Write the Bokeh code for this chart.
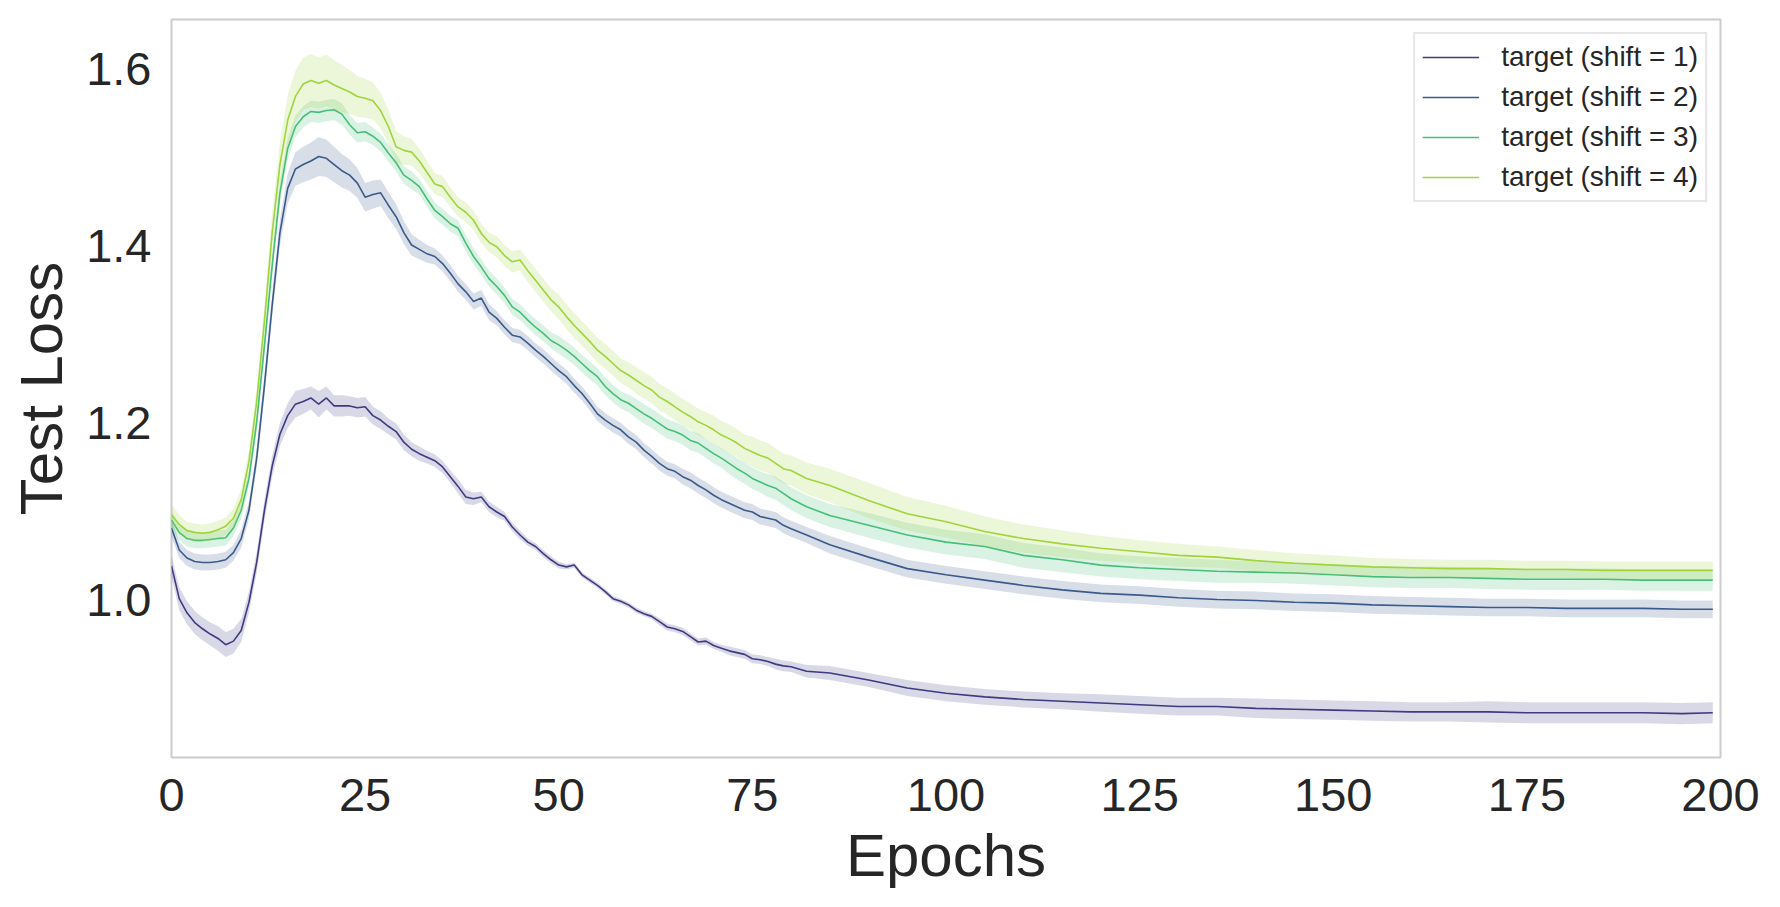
import numpy as np
from bokeh.plotting import figure
from bokeh.models import (ColumnDataSource, Range1d, FixedTicker, PrintfTickFormatter,
                          Legend, LegendItem)
from bokeh.embed import file_html
from bokeh.resources import INLINE

# ---------------- data ----------------
EPOCHS = list(range(0, 81)) + [82, 85, 90, 95, 100, 105, 110, 115, 120, 125, 130, 135,
                               140, 145, 150, 155, 160, 165, 170, 175, 180, 185, 190, 195, 199]

LABELS = ["target (shift = 1)", "target (shift = 2)", "target (shift = 3)", "target (shift = 4)"]
COLORS = ["#3f3a82", "#3a5a8c", "#45bf76", "#9fd43c"]

shift1 = [
    1.038, 1.001, 0.985, 0.974, 0.967, 0.961, 0.956, 0.949, 0.953, 0.965,
    0.997, 1.042, 1.101, 1.151, 1.187, 1.208, 1.221, 1.224, 1.228, 1.221,
    1.228, 1.219, 1.219, 1.219, 1.217, 1.218, 1.208, 1.203, 1.196, 1.190,
    1.178, 1.170, 1.165, 1.161, 1.157, 1.150, 1.139, 1.128, 1.116, 1.114,
    1.116, 1.105, 1.099, 1.094, 1.082, 1.073, 1.065, 1.060, 1.052, 1.045,
    1.039, 1.037, 1.039, 1.028, 1.022, 1.016, 1.009, 1.001, 0.998, 0.994,
    0.988, 0.984, 0.981, 0.975, 0.969, 0.967, 0.964, 0.958, 0.952, 0.953,
    0.948, 0.945, 0.942, 0.940, 0.938, 0.933, 0.932, 0.930, 0.927, 0.925, 0.924,
    0.919, 0.917, 0.909, 0.900, 0.894, 0.890, 0.887, 0.885, 0.883, 0.881, 0.879, 0.879,
    0.877, 0.876, 0.875, 0.874, 0.873, 0.873, 0.873, 0.872, 0.872, 0.872, 0.872, 0.871, 0.872,
]
shift2 = [
    1.081, 1.056, 1.047, 1.043, 1.042, 1.042, 1.043, 1.045, 1.053, 1.069,
    1.101, 1.160, 1.242, 1.333, 1.415, 1.465, 1.487, 1.492, 1.496, 1.501,
    1.499, 1.492, 1.485, 1.480, 1.471, 1.455, 1.458, 1.460, 1.446, 1.433,
    1.415, 1.401, 1.396, 1.391, 1.388, 1.380, 1.369, 1.357, 1.348, 1.337,
    1.341, 1.325, 1.318, 1.308, 1.299, 1.297, 1.290, 1.282, 1.275, 1.267,
    1.259, 1.252, 1.242, 1.233, 1.222, 1.210, 1.203, 1.197, 1.192, 1.184,
    1.178, 1.169, 1.162, 1.154, 1.148, 1.145, 1.139, 1.135, 1.129, 1.124,
    1.118, 1.113, 1.109, 1.105, 1.101, 1.099, 1.094, 1.092, 1.090, 1.084, 1.080,
    1.073, 1.062, 1.048, 1.035, 1.028, 1.022, 1.016, 1.011, 1.007, 1.005, 1.002, 1.000,
    0.999, 0.997, 0.996, 0.994, 0.993, 0.992, 0.991, 0.991, 0.990, 0.990, 0.990, 0.989, 0.989,
]
shift3 = [
    1.090, 1.076, 1.069, 1.067, 1.067, 1.068, 1.069, 1.070, 1.081, 1.101,
    1.137, 1.201, 1.287, 1.378, 1.460, 1.510, 1.535, 1.546, 1.552, 1.551,
    1.553, 1.554, 1.549, 1.537, 1.528, 1.529, 1.524, 1.517, 1.505, 1.494,
    1.480, 1.474, 1.467, 1.453, 1.440, 1.433, 1.425, 1.420, 1.403, 1.388,
    1.376, 1.363, 1.354, 1.344, 1.331, 1.325, 1.316, 1.308, 1.301, 1.293,
    1.288, 1.282, 1.275, 1.267, 1.259, 1.252, 1.241, 1.233, 1.226, 1.222,
    1.216, 1.210, 1.205, 1.199, 1.193, 1.190, 1.186, 1.180, 1.177, 1.171,
    1.165, 1.160, 1.154, 1.148, 1.143, 1.137, 1.133, 1.129, 1.126, 1.120, 1.114,
    1.105, 1.095, 1.084, 1.073, 1.065, 1.060, 1.050, 1.045, 1.039, 1.036, 1.034, 1.032,
    1.031, 1.030, 1.028, 1.026, 1.025, 1.025, 1.024, 1.023, 1.023, 1.023, 1.022, 1.022, 1.022,
]
shift4 = [
    1.096, 1.085, 1.078, 1.076, 1.075, 1.076, 1.079, 1.083, 1.092, 1.113,
    1.156, 1.224, 1.315, 1.415, 1.492, 1.542, 1.569, 1.583, 1.587, 1.584,
    1.587, 1.582, 1.578, 1.574, 1.569, 1.567, 1.564, 1.553, 1.535, 1.512,
    1.508, 1.506, 1.496, 1.483, 1.470, 1.467, 1.455, 1.444, 1.438, 1.429,
    1.414, 1.404, 1.399, 1.389, 1.382, 1.384, 1.372, 1.361, 1.350, 1.339,
    1.331, 1.320, 1.310, 1.301, 1.292, 1.282, 1.275, 1.267, 1.259, 1.254,
    1.248, 1.242, 1.237, 1.229, 1.224, 1.218, 1.212, 1.207, 1.201, 1.197,
    1.192, 1.186, 1.182, 1.177, 1.171, 1.167, 1.163, 1.160, 1.154, 1.148, 1.146,
    1.137, 1.129, 1.112, 1.097, 1.088, 1.077, 1.069, 1.063, 1.058, 1.054, 1.050, 1.048,
    1.044, 1.041, 1.039, 1.037, 1.036, 1.035, 1.035, 1.034, 1.034, 1.033, 1.033, 1.033, 1.033,
]

# half-width of the shaded confidence band
band1 = [
    0.012, 0.013, 0.013, 0.013, 0.013, 0.013, 0.014, 0.014, 0.014, 0.013,
    0.012, 0.012, 0.012, 0.012, 0.013, 0.014, 0.015, 0.014, 0.013, 0.015,
    0.013, 0.012, 0.012, 0.011, 0.011, 0.011, 0.010, 0.010, 0.009, 0.009,
    0.009, 0.008, 0.008, 0.007, 0.007, 0.007, 0.007, 0.008, 0.008, 0.007,
    0.006, 0.006, 0.006, 0.005, 0.005, 0.005, 0.004, 0.004, 0.004, 0.004,
    0.004, 0.003, 0.003, 0.003, 0.003, 0.003, 0.003, 0.003, 0.003, 0.003,
    0.003, 0.003, 0.003, 0.004, 0.004, 0.004, 0.004, 0.004, 0.004, 0.004,
    0.004, 0.004, 0.005, 0.005, 0.005, 0.005, 0.005, 0.005, 0.006, 0.006, 0.006,
    0.007, 0.008, 0.008, 0.009, 0.009, 0.009, 0.009, 0.009, 0.010, 0.010, 0.010, 0.010,
    0.011, 0.011, 0.011, 0.011, 0.011, 0.011, 0.012, 0.012, 0.012, 0.012, 0.012, 0.012, 0.012,
]
band2 = [
    0.010, 0.009, 0.009, 0.009, 0.009, 0.009, 0.009, 0.009, 0.009, 0.010,
    0.010, 0.011, 0.012, 0.013, 0.015, 0.017, 0.019, 0.020, 0.021, 0.022,
    0.021, 0.020, 0.019, 0.018, 0.017, 0.016, 0.016, 0.015, 0.015, 0.014,
    0.013, 0.012, 0.011, 0.010, 0.009, 0.009, 0.009, 0.009, 0.009, 0.009,
    0.009, 0.009, 0.008, 0.008, 0.008, 0.008, 0.008, 0.008, 0.008, 0.008,
    0.008, 0.008, 0.008, 0.008, 0.008, 0.008, 0.008, 0.008, 0.008, 0.008,
    0.008, 0.008, 0.008, 0.008, 0.008, 0.008, 0.009, 0.009, 0.009, 0.009,
    0.009, 0.009, 0.009, 0.009, 0.009, 0.009, 0.009, 0.009, 0.009, 0.009, 0.009,
    0.009, 0.010, 0.010, 0.010, 0.010, 0.010, 0.010, 0.010, 0.010, 0.010, 0.010, 0.010,
    0.010, 0.010, 0.010, 0.010, 0.010, 0.010, 0.010, 0.010, 0.010, 0.010, 0.010, 0.010, 0.010,
]
band3 = [
    0.010, 0.009, 0.009, 0.009, 0.009, 0.009, 0.009, 0.009, 0.009, 0.009,
    0.009, 0.010, 0.011, 0.012, 0.012, 0.012, 0.012, 0.012, 0.012, 0.012,
    0.012, 0.012, 0.012, 0.011, 0.011, 0.011, 0.010, 0.010, 0.010, 0.010,
    0.010, 0.010, 0.009, 0.009, 0.009, 0.009, 0.009, 0.009, 0.009, 0.009,
    0.009, 0.009, 0.009, 0.009, 0.009, 0.009, 0.009, 0.009, 0.009, 0.009,
    0.010, 0.010, 0.010, 0.010, 0.010, 0.010, 0.010, 0.010, 0.010, 0.010,
    0.011, 0.011, 0.011, 0.011, 0.011, 0.011, 0.011, 0.011, 0.011, 0.011,
    0.011, 0.011, 0.012, 0.012, 0.012, 0.012, 0.012, 0.013, 0.013, 0.013, 0.013,
    0.013, 0.013, 0.014, 0.014, 0.014, 0.014, 0.014, 0.014, 0.013, 0.013, 0.013, 0.013,
    0.012, 0.012, 0.012, 0.012, 0.012, 0.012, 0.012, 0.012, 0.012, 0.012, 0.012, 0.012, 0.012,
]
band4 = [
    0.012, 0.011, 0.010, 0.010, 0.010, 0.010, 0.010, 0.010, 0.011, 0.012,
    0.013, 0.015, 0.018, 0.022, 0.026, 0.028, 0.029, 0.030, 0.030, 0.029,
    0.029, 0.028, 0.027, 0.025, 0.023, 0.022, 0.021, 0.020, 0.019, 0.018,
    0.016, 0.015, 0.014, 0.013, 0.012, 0.012, 0.011, 0.011, 0.011, 0.011,
    0.011, 0.011, 0.012, 0.012, 0.012, 0.012, 0.013, 0.013, 0.013, 0.013,
    0.014, 0.014, 0.014, 0.014, 0.014, 0.014, 0.014, 0.014, 0.014, 0.014,
    0.015, 0.015, 0.015, 0.015, 0.015, 0.015, 0.015, 0.015, 0.015, 0.015,
    0.016, 0.016, 0.016, 0.016, 0.016, 0.017, 0.017, 0.017, 0.017, 0.017, 0.017,
    0.018, 0.019, 0.020, 0.019, 0.018, 0.017, 0.016, 0.015, 0.014, 0.013, 0.013, 0.012,
    0.012, 0.011, 0.011, 0.010, 0.010, 0.010, 0.010, 0.010, 0.010, 0.010, 0.010, 0.010, 0.010,
]

X_TICKS = [0, 25, 50, 75, 100, 125, 150, 175, 200]
Y_TICKS = [1.0, 1.2, 1.4, 1.6]

SERIES = [shift1, shift2, shift3, shift4]
BANDS = [band1, band2, band3, band4]
for s, b in zip(SERIES, BANDS):
    assert len(s) == len(EPOCHS), len(s)
    assert len(b) == len(EPOCHS), len(b)

# ---------------- figure ----------------
FONT = "Liberation Sans"
TXT = "#262626"

p = figure(width=1764, height=891, output_backend="svg", toolbar_location=None,
           x_range=Range1d(0, 200), y_range=Range1d(0.8214, 1.656),
           min_border_left=171, min_border_right=44, min_border_top=19, min_border_bottom=134)

p.background_fill_color = "white"
p.border_fill_color = "white"
p.outline_line_color = "#cccccc"
p.outline_line_width = 2
p.xgrid.visible = False
p.ygrid.visible = False

for ax in (p.xaxis[0], p.yaxis[0]):
    ax.axis_line_color = None
    ax.major_tick_line_color = None
    ax.minor_tick_line_color = None
    ax.major_tick_out = 0
    ax.major_tick_in = 0
    ax.minor_tick_out = 0
    ax.minor_tick_in = 0
    ax.major_label_text_font = FONT
    ax.major_label_text_font_size = "47px"
    ax.major_label_text_color = TXT
    ax.axis_label_text_font = FONT
    ax.axis_label_text_font_size = "60px"
    ax.axis_label_text_font_style = "normal"
    ax.axis_label_text_color = TXT

p.xaxis[0].ticker = FixedTicker(ticks=X_TICKS)
p.xaxis[0].formatter = PrintfTickFormatter(format="%d")
p.yaxis[0].ticker = FixedTicker(ticks=Y_TICKS)
p.yaxis[0].formatter = PrintfTickFormatter(format="%.1f")
p.xaxis[0].axis_label = "Epochs"
p.yaxis[0].axis_label = "Test Loss"
p.xaxis[0].major_label_standoff = 21
p.xaxis[0].axis_label_standoff = 8
p.yaxis[0].major_label_standoff = 20
p.yaxis[0].axis_label_standoff = 8

items = []
x = np.array(EPOCHS, dtype=float)
for lab, col, s, b in zip(LABELS, COLORS, SERIES, BANDS):
    y = np.array(s)
    hw = np.array(b)
    src = ColumnDataSource(dict(x=x, y=y, lo=y - hw, hi=y + hw))
    p.varea(x="x", y1="lo", y2="hi", source=src, fill_color=col, fill_alpha=0.2)
    r = p.line(x="x", y="y", source=src, line_color=col, line_width=1.6)
    items.append(LegendItem(label=lab, renderers=[r]))

legend = Legend(items=items, location="top_right", margin=13,
                label_text_font=FONT, label_text_font_size="28px", label_text_color=TXT,
                glyph_width=57, glyph_height=30, label_height=30, label_standoff=22,
                padding=7, spacing=8,
                border_line_color="#cccccc", border_line_width=2,
                background_fill_color="white", background_fill_alpha=0.8)
p.add_layout(legend, "center")

open("out.html", "w").write(file_html(p, INLINE))
